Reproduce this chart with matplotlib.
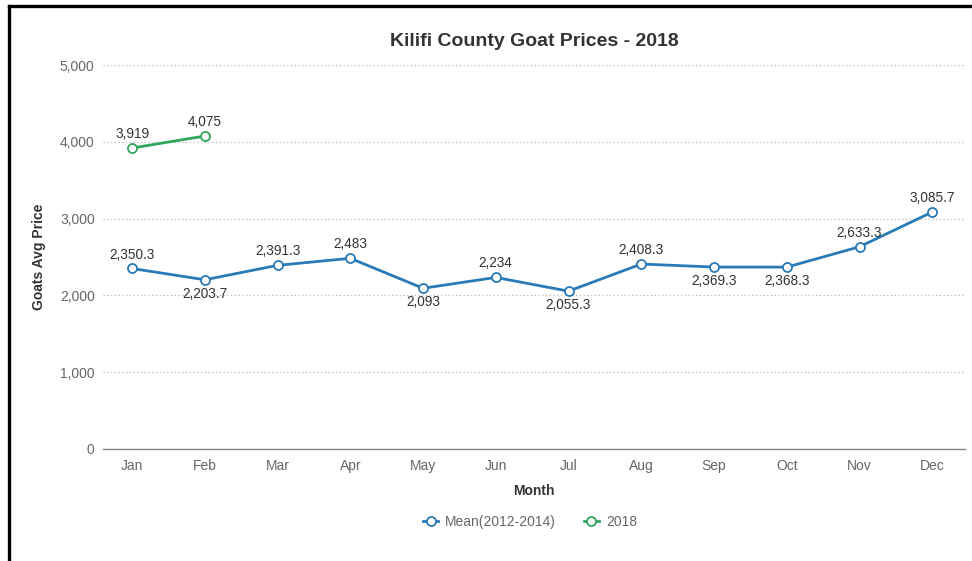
import matplotlib.pyplot as plt
from matplotlib.lines import Line2D

plt.rcParams['font.family'] = ['Liberation Sans', 'DejaVu Sans']

months = ['Jan', 'Feb', 'Mar', 'Apr', 'May', 'Jun', 'Jul', 'Aug', 'Sep', 'Oct', 'Nov', 'Dec']
mean_2012_2014 = [2350.3, 2203.7, 2391.3, 2483, 2093, 2234, 2055.3, 2408.3, 2369.3, 2368.3, 2633.3, 3085.7]
prices_2018 = [3919, 4075]
# which mean labels sit under their point
below = [False, True, False, False, True, False, True, False, True, True, False, False]

blue = '#2a7ab8'
green = '#31a55b'
text_col = '#333333'
tick_col = '#666666'

fig = plt.figure(figsize=(9.72, 5.61), dpi=100)
ax = fig.add_axes([103 / 972, 112 / 561, 862 / 972, 384 / 561])

x = list(range(len(months)))
ax.plot(x, mean_2012_2014, color=blue, lw=2.0, marker='o', ms=6.5,
        mfc='white', mec=blue, mew=1.3, zorder=3, label='Mean(2012-2014)')
ax.plot(x[:len(prices_2018)], prices_2018, color=green, lw=2.0, marker='o', ms=6.5,
        mfc='white', mec=green, mew=1.3, zorder=3, label='2018')

def fmt(v):
    s = f"{v:,.1f}"
    return s[:-2] if s.endswith('.0') else s

for i, v in enumerate(mean_2012_2014):
    if below[i]:
        ax.annotate(fmt(v), (i, v), xytext=(0, -5), textcoords='offset points',
                    ha='center', va='top', fontsize=9.8, color=text_col)
    else:
        ax.annotate(fmt(v), (i, v), xytext=(0, 5), textcoords='offset points',
                    ha='center', va='bottom', fontsize=9.8, color=text_col)
for i, v in enumerate(prices_2018):
    ax.annotate(fmt(v), (i, v), xytext=(0, 5), textcoords='offset points',
                ha='center', va='bottom', fontsize=9.8, color=text_col)

ax.set_xlim(-0.4, 11.45)
ax.set_ylim(0, 5000)
ax.set_xticks(x)
ax.set_xticklabels(months)
ax.set_yticks(range(0, 5001, 1000))
ax.set_yticklabels([f"{t:,}" for t in range(0, 5001, 1000)])
ax.tick_params(axis='both', length=0, labelsize=10, colors=tick_col)
ax.tick_params(axis='x', pad=7)
ax.tick_params(axis='y', pad=6)

for t in range(1000, 5001, 1000):
    ax.axhline(t, color='#b8b8b8', lw=0.9, ls=(0, (1, 2)), zorder=1)
for side in ['top', 'right', 'left']:
    ax.spines[side].set_visible(False)
ax.spines['bottom'].set_color('#888888')
ax.spines['bottom'].set_linewidth(1.0)

ax.set_title('Kilifi County Goat Prices - 2018', fontsize=14, fontweight='bold',
             color='#333333', pad=14)
ax.set_xlabel('Month', fontsize=10, fontweight='bold', color=text_col, labelpad=8)
ax.set_ylabel('Goats Avg Price', fontsize=10, fontweight='bold', color=text_col, labelpad=10)

fig.legend(loc='center', bbox_to_anchor=(530 / 972, 39 / 561), ncol=2, frameon=False,
           fontsize=10, labelcolor=tick_col, handlelength=1.1, columnspacing=2.0,
           handletextpad=0.5)

# black frame on the top and left edges
fig.add_artist(Line2D([8.5 / 972, 1], [1 - 5.5 / 561, 1 - 5.5 / 561],
                      transform=fig.transFigure, color='black', lw=2.4))
fig.add_artist(Line2D([8.5 / 972, 8.5 / 972], [0, 1 - 5.5 / 561],
                      transform=fig.transFigure, color='black', lw=2.4))

fig.savefig('out.png', dpi=100, facecolor='white')
